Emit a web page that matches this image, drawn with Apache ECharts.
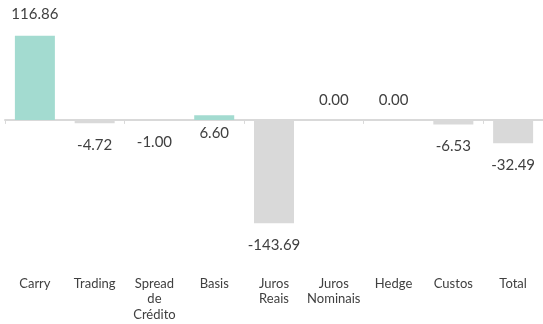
<!DOCTYPE html>
<html>
<head>
<meta charset="utf-8">
<script src="https://cdn.jsdelivr.net/npm/echarts@6/dist/echarts.min.js"></script>
<style>
html,body{margin:0;padding:0;background:#fff;}
#main{width:543px;height:324px;}
</style>
</head>
<body>
<div id="main"></div>
<script>
var categories = ['Carry', 'Trading', 'Spread\nde\nCrédito', 'Basis', 'Juros\nReais', 'Juros\nNominais', 'Hedge', 'Custos', 'Total'];
var values = [116.86, -4.72, -1.00, 6.60, -143.69, 0.00, 0.00, -6.53, -32.49];

var chart = echarts.init(document.getElementById('main'));

var barData = values.map(function (v, i) {
    var item = {
        value: v,
        itemStyle: { color: v > 0 ? '#a3dbd0' : '#d9d9d9' }
    };
    if (v === 0) {
        item.label = { position: 'top', distance: 12 };
    }
    // Basis label sits under the axis line in the original
    if (i === 3) {
        item.label = { position: 'bottom', distance: 6 };
    }
    return item;
});

var option = {
    animation: false,
    grid: {
        top: 30,
        bottom: 56,
        left: 5,
        right: -2
    },
    xAxis: [{
        type: 'category',
        data: categories,
        position: 'top',
        axisLine: {
            onZero: true,
            lineStyle: { color: '#d9d9d9', width: 2 }
        },
        axisTick: {
            show: true,
            inside: true,
            length: 4,
            lineStyle: { color: '#d9d9d9' }
        },
        axisLabel: { show: false }
    }, {
        type: 'category',
        data: categories,
        position: 'bottom',
        axisLine: { show: false },
        axisTick: { show: false },
        axisLabel: {
            interval: 0,
            color: '#404040',
            fontFamily: 'Lato',
            fontSize: 13,
            lineHeight: 15.5,
            margin: 8
        }
    }],
    yAxis: {
        type: 'value',
        min: -206,
        max: 125,
        show: false,
        splitLine: { show: false }
    },
    series: [{
        type: 'bar',
        xAxisIndex: 0,
        barWidth: 40,
        data: barData,
        label: {
            show: true,
            position: 'outside',
            distance: 14,
            color: '#404040',
            fontFamily: 'Lato',
            fontSize: 15,
            formatter: function (p) {
                return p.value.toFixed(2);
            }
        }
    }]
};
chart.setOption(option);
</script>
</body>
</html>
